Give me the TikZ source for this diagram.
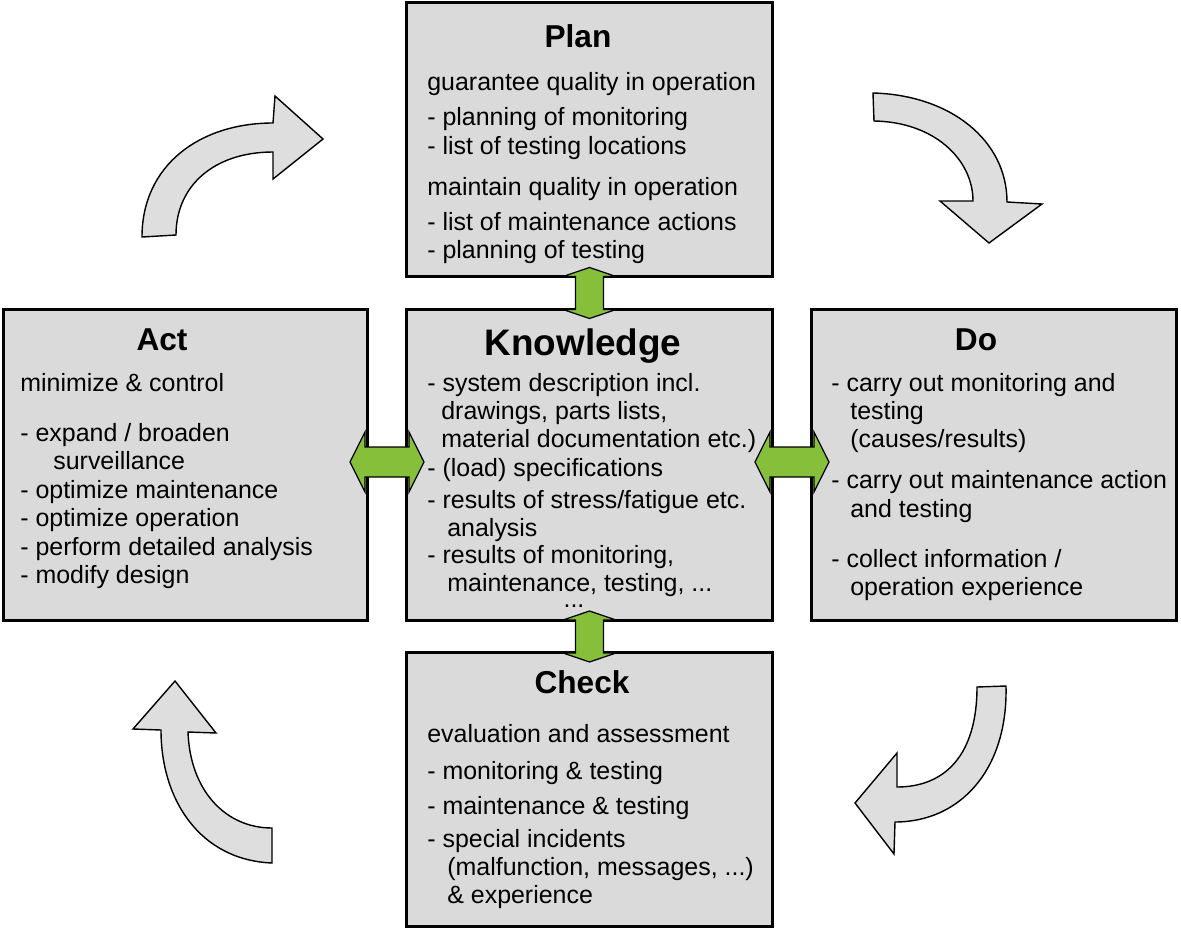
\documentclass[tikz,border=0pt]{standalone}
\usepackage{fontspec}
\setmainfont{Liberation Sans}
\usetikzlibrary{calc}
\definecolor{boxgray}{RGB}{218,218,218}
\definecolor{arrowgray}{RGB}{222,222,222}
\definecolor{linkgreen}{RGB}{134,192,58}
\tikzset{
    box/.style = {rectangle, draw=black, line width=1.7pt, fill=boxgray, inner sep=0pt},
    title/.style = {anchor=base, inner sep=0pt, font=\fontsize{18}{20}\selectfont\bfseries},
    txt/.style = {anchor=base west, inner sep=0pt, yshift=-0.04cm, font=\fontsize{14.2}{16}\selectfont},
    link/.style = {draw=black, line width=0.7pt, fill=linkgreen, line join=miter}, % green double arrows
    turn/.style = {draw=black, line width=0.8pt, fill=arrowgray, line join=miter}, % cycle arrows
}

\begin{document}
\begin{tikzpicture}[x=0.02cm, y=-0.02cm]
\useasboundingbox (0,0) rectangle (1181,930);
% boxes
\node[box, minimum width=7.34cm, minimum height=5.5cm]  at (589.5,139.5) (plan) {};
\node[box, minimum width=7.34cm, minimum height=6.24cm] at (589.5,465) (know) {};
\node[box, minimum width=7.34cm, minimum height=5.5cm]  at (589.5,789.5) (check) {};
\node[box, minimum width=7.3cm, minimum height=6.24cm]  at (185.5,465) (act) {};
\node[box, minimum width=7.32cm, minimum height=6.24cm] at (994,465) (do) {};
%
\node[title] at (578,47) (plant) {Plan};
\node[txt] at (427,88) (p1) {guarantee quality in operation};
\node[txt] at (427,123) (p2) {- planning of monitoring};
\node[txt] at (427,152) (p3) {- list of testing locations};
\node[txt] at (427,193) (p4) {maintain quality in operation};
\node[txt] at (427,228) (p5) {- list of maintenance actions};
\node[txt] at (427,256) (p6) {- planning of testing};
%
\node[title, font=\fontsize{21}{24}\selectfont\bfseries] at (583,355) (knowt) {Knowledge};
\node[txt] at (427,389) (k1) {- system description incl.};
\node[txt] at (441,417) (k2) {drawings, parts lists,};
\node[txt] at (441,445) (k3) {material documentation etc.)};
\node[txt] at (427,474) (k4) {- (load) specifications};
\node[txt] at (427,506) (k5) {- results of stress/fatigue etc.};
\node[txt] at (447,534) (k6) {analysis};
\node[txt] at (427,561) (k7) {- results of monitoring,};
\node[txt] at (447,589) (k8) {maintenance, testing, ...};
\node[txt, anchor=base] at (574,605) (k9) {...};
%
\node[title] at (162,350) (actt) {Act};
\node[txt] at (20,389) (a1) {minimize \& control};
\node[txt] at (20,439) (a2) {- expand / broaden};
\node[txt] at (53,467) (a3) {surveillance};
\node[txt] at (20,496) (a4) {- optimize maintenance};
\node[txt] at (20,524) (a5) {- optimize operation};
\node[txt] at (20,553) (a6) {- perform detailed analysis};
\node[txt] at (20,581) (a7) {- modify design};
%
\node[title] at (976,350) (dot) {Do};
\node[txt] at (831,389) (d1) {- carry out monitoring and};
\node[txt] at (850,417) (d2) {testing};
\node[txt] at (850,445) (d3) {(causes/results)};
\node[txt] at (831,486) (d4) {- carry out maintenance action};
\node[txt] at (850,515) (d5) {and testing};
\node[txt] at (831,565) (d6) {- collect information /};
\node[txt] at (850,593) (d7) {operation experience};
%
\node[title] at (582,693) (checkt) {Check};
\node[txt] at (427,740) (c1) {evaluation and assessment};
\node[txt] at (427,777) (c2) {- monitoring \& testing};
\node[txt] at (427,812) (c3) {- maintenance \& testing};
\node[txt] at (427,845) (c4) {- special incidents};
\node[txt] at (447,873) (c5) {(malfunction, messages, ...)};
\node[txt] at (447,901) (c6) {\& experience};
% links to knowledge
\coordinate (ak) at ($(act.east)!0.5!(know.west)+(0,-3)$);
\coordinate (kd) at ($(know.east)!0.5!(do.west)+(0,-3)$);
\coordinate (pk) at ($(plan.south)!0.5!(know.north)$);
\coordinate (kc) at ($(know.south)!0.5!(check.north)$);
\foreach \c in {ak,kd}
  \draw[link] ($(\c)+(-37,0)$) -- ++(15,-30) -- ++(0,15) -- ++(44,0) -- ++(0,-15)
      -- ++(15,30) -- ++(-15,30) -- ++(0,-15) -- ++(-44,0) -- ++(0,15) -- cycle;
\foreach \c in {pk,kc}
  \draw[link] ($(\c)+(0,-25.5)$) -- ++(26.5,9) -- ++(-12.5,0) -- ++(0,33) -- ++(12.5,0)
      -- ++(-26.5,9) -- ++(-26.5,-9) -- ++(12.5,0) -- ++(0,-33) -- ++(-12.5,0) -- cycle;
% cycle arrows
\draw[turn] (142,237) .. controls (142,165) and (200,123) .. (273,123)
    -- (275,96) -- (323,139) -- (273,179) -- (273,152)
    .. controls (215,152) and (176,185) .. (176,235) -- cycle;
\draw[turn] (873,93) .. controls (950,95) and (1007,140) .. (1007,202)
    -- (1042,204) -- (989,243) -- (940,201) -- (973,201)
    .. controls (973,160) and (935,122) .. (874,121) -- cycle;
\draw[turn] (1006,686) .. controls (1008,770) and (960,822) .. (895,822)
    -- (894,854) -- (855,803) -- (897,753) -- (897,787)
    .. controls (945,787) and (977,755) .. (977,687) -- cycle;
\draw[turn] (272,863) .. controls (200,860) and (161,800) .. (161,730)
    -- (133,729) -- (175,681) -- (216,733) -- (188,732)
    .. controls (190,790) and (225,828) .. (272,828) -- cycle;
\end{tikzpicture}
\end{document}
